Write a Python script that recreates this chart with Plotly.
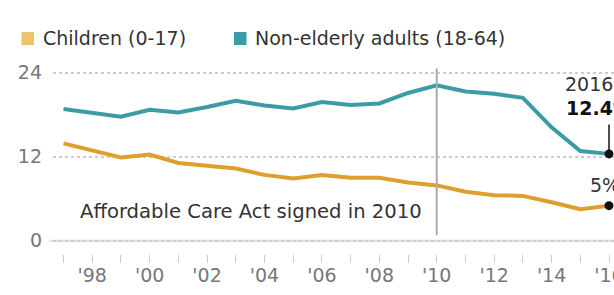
import plotly.graph_objects as go

years = list(range(1997, 2017))
children = [13.9, 12.9, 11.9, 12.3, 11.1, 10.7, 10.3, 9.4, 8.9, 9.4, 9.0, 9.0, 8.3, 7.9, 7.0, 6.5, 6.4, 5.5, 4.5, 5.0]
adults = [18.8, 18.2, 17.7, 18.7, 18.3, 19.1, 20.0, 19.3, 18.9, 19.8, 19.4, 19.6, 21.1, 22.2, 21.3, 21.0, 20.4, 16.2, 12.8, 12.4]
series_names = ["Children (0-17)", "Non-elderly adults (18-64)"]
line_colors = ["#DF9F2E", "#3C9BA8"]
legend_colors = ["#EEC46A", "#3C9BA8"]
y_ticks = [0, 12, 24]
x_tick_text = ["'%02d" % (y % 100) if y % 2 == 0 else "" for y in years]
event_year = 2010
event_label = "Affordable Care Act signed in 2010"

FONT = "DejaVu Sans"
fig = go.Figure()

for vals, col, name in zip([children, adults], line_colors, series_names):
    fig.add_trace(go.Scatter(x=years, y=vals, mode="lines", name=name,
                             line=dict(color=col, width=4), showlegend=False,
                             hoverinfo="skip"))

# end dots
fig.add_trace(go.Scatter(x=[years[-1], years[-1]], y=[children[-1], adults[-1]],
                         mode="markers", marker=dict(color="#111", size=9),
                         showlegend=False, hoverinfo="skip", cliponaxis=False))

# event line
fig.add_shape(type="line", x0=event_year, x1=event_year, y0=0.8, y1=24.6,
              xref="x", yref="y", line=dict(color="#AAAAAA", width=2), layer="above")

# zero line
fig.add_shape(type="line", x0=-0.007, x1=1, y0=0, y1=0, xref="x domain", yref="y",
              line=dict(color="#DDDDDD", width=2), layer="below")

annos = []
annos.append(dict(x=event_year, y=4.1, xref="x", yref="y", text=event_label,
                  showarrow=False, xanchor="right", yanchor="middle", xshift=-13,
                  font=dict(family=FONT, size=19.6, color="#333")))
annos.append(dict(x=years[-1], y=22.4, xref="x", yref="y", text=str(years[-1]),
                  showarrow=False, xanchor="left", yanchor="middle", xshift=-46,
                  font=dict(family=FONT, size=19, color="#333")))
annos.append(dict(x=years[-1], y=18.9, xref="x", yref="y", text="<b>%g%%</b>" % adults[-1],
                  showarrow=False, xanchor="left", yanchor="middle", xshift=-45,
                  font=dict(family=FONT, size=19, color="#111")))
annos.append(dict(x=years[-1], y=7.9, xref="x", yref="y", text="%g%%" % children[-1],
                  showarrow=False, xanchor="left", yanchor="middle", xshift=-21,
                  font=dict(family=FONT, size=19, color="#333")))
fig.add_shape(type="line", x0=years[-1], x1=years[-1], y0=adults[-1], y1=16.6,
              xref="x", yref="y", line=dict(color="#111", width=1.5))

# legend (positions given in page pixels, converted to plot-area fractions)
leg_x = [21.5, 234]
for lx, col, name in zip(leg_x, legend_colors, series_names):
    fig.add_shape(type="rect", xref="paper", yref="paper",
                  x0=(lx - 53) / 561, x1=(lx + 12.5 - 53) / 561,
                  y0=(254 - 45) / 194, y1=(254 - 32) / 194,
                  line=dict(width=0), fillcolor=col)
    annos.append(dict(xref="paper", yref="paper", x=(lx + 19 - 53) / 561,
                      y=(254 - 38.5) / 194, text=name, showarrow=False,
                      xanchor="left", yanchor="middle",
                      font=dict(family=FONT, size=19, color="#333")))

fig.update_layout(
    width=614, height=295,
    margin=dict(l=53, r=0, t=60, b=41, autoexpand=False),
    paper_bgcolor="white", plot_bgcolor="white",
    annotations=annos,
    xaxis=dict(range=[1996.634, 2016.174], tickvals=years, ticktext=x_tick_text,
               ticks="outside", ticklen=8, tickcolor="#CCCCCC", tickwidth=1,
               showgrid=False, zeroline=False, showline=False, automargin=False,
               ticklabeloverflow="allow", ticklabelstandoff=-4,
               tickfont=dict(family=FONT, size=19, color="#777")),
    yaxis=dict(range=[-1.9, 25.81], tickvals=y_ticks, showgrid=True,
               gridcolor="#CCCCCC", griddash="dot", gridwidth=1.5, automargin=False,
               zeroline=False, showline=False, ticklabelstandoff=10,
               tickfont=dict(family=FONT, size=19, color="#777")),
    showlegend=False,
)

fig.write_html("out.html", config={"displayModeBar": False},
               post_script="document.body.style.margin='0';")
